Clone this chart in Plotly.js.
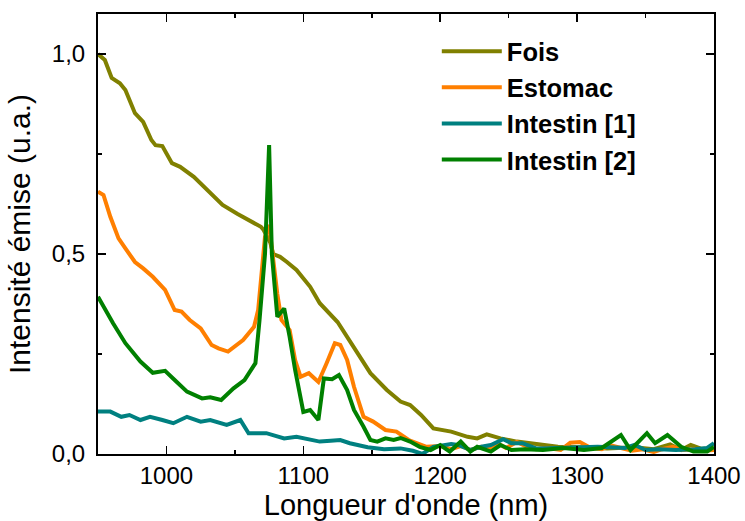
<!DOCTYPE html>
<html>
<head>
<meta charset="utf-8">
<script src="https://cdn.plot.ly/plotly-3.0.1.min.js"></script>
<style>html,body{margin:0;padding:0;background:#fff;}#chart{width:745px;height:521px;}</style>
</head>
<body>
<div id="chart"></div>
<script>
// Fois
const foisX = [950, 955, 960, 966, 970, 977, 983, 989, 992, 997, 1004, 1010, 1020, 1030, 1041, 1052, 1060, 1064, 1069, 1071, 1076, 1078, 1083, 1088, 1095, 1105, 1112, 1125, 1132, 1139, 1149, 1161, 1171, 1178, 1186, 1195, 1208, 1220, 1227, 1234, 1244, 1256, 1271, 1286, 1303, 1322, 1342, 1356, 1368, 1376, 1383, 1390, 1400];
const foisY = [1.0, 0.985, 0.94, 0.927, 0.91, 0.852, 0.83, 0.785, 0.772, 0.77, 0.727, 0.718, 0.693, 0.66, 0.6225, 0.60, 0.585, 0.58, 0.568, 0.56, 0.527, 0.50, 0.493, 0.48, 0.46, 0.418, 0.377, 0.33, 0.293, 0.252, 0.202, 0.16, 0.131, 0.1225, 0.0975, 0.064, 0.056, 0.043, 0.039, 0.049, 0.039, 0.031, 0.025, 0.018, 0.017, 0.014, 0.017, 0.012, 0.024, 0.01, 0.0225, 0.014, 0.012];
// Estomac
const estX = [950, 954, 959, 965, 970, 977, 983, 990, 999, 1006, 1011, 1017, 1025, 1033, 1038, 1045, 1056, 1064, 1067, 1070, 1072, 1075, 1081, 1084, 1090, 1094, 1098, 1104, 1111, 1117, 1123, 1127, 1132, 1137, 1144, 1151, 1160, 1168, 1177, 1190, 1200, 1208, 1215, 1222, 1230, 1238, 1242, 1248, 1256, 1262, 1270, 1278, 1288, 1295, 1302, 1310, 1318, 1324, 1332, 1340, 1348, 1356, 1362, 1370, 1378, 1386, 1392, 1400];
const estY = [0.656, 0.6475, 0.593, 0.539, 0.514, 0.48, 0.464, 0.443, 0.41, 0.36, 0.356, 0.335, 0.314, 0.2725, 0.264, 0.256, 0.285, 0.318, 0.36, 0.46, 0.543, 0.5725, 0.40, 0.335, 0.31, 0.235, 0.193, 0.202, 0.18, 0.227, 0.277, 0.2725, 0.235, 0.168, 0.093, 0.081, 0.06, 0.056, 0.035, 0.018, 0.02, 0.012, 0.02, 0.01, 0.018, 0.012, 0.027, 0.015, 0.03, 0.02, 0.012, 0.015, 0.01, 0.028, 0.03, 0.015, 0.012, 0.022, 0.015, 0.008, 0.012, 0.005, 0.012, 0.018, 0.01, 0.012, 0.008, 0.01];
// Intestin [1]
const int1X = [950, 959, 967, 973, 981, 988, 997, 1005, 1015, 1025, 1032, 1044, 1054, 1060, 1073, 1086, 1095, 1105, 1112, 1120, 1127, 1134, 1147, 1159, 1171, 1180, 1187, 1195, 1208, 1213, 1222, 1230, 1237, 1246, 1252, 1260, 1270, 1285, 1302, 1315, 1324, 1335, 1342, 1350, 1360, 1372, 1386, 1395, 1400];
const int1Y = [0.106, 0.106, 0.093, 0.0975, 0.085, 0.093, 0.085, 0.077, 0.093, 0.081, 0.085, 0.0725, 0.085, 0.052, 0.052, 0.039, 0.043, 0.035, 0.031, 0.033, 0.035, 0.027, 0.017, 0.012, 0.014, 0.008, 0.0, 0.018, 0.025, 0.0225, 0.01, 0.018, 0.0225, 0.037, 0.027, 0.027, 0.014, 0.015, 0.017, 0.018, 0.017, 0.015, 0.0225, 0.01, 0.012, 0.01, 0.012, 0.015, 0.027];
// Intestin [2]
const int2X = [950, 954, 961, 970, 981, 990, 999, 1006, 1015, 1026, 1032, 1040, 1049, 1057, 1061, 1065, 1068, 1072, 1075, 1077, 1081, 1086, 1090, 1094, 1100, 1105, 1111, 1115, 1121, 1126, 1132, 1137, 1144, 1149, 1154, 1160, 1166, 1171, 1178, 1185, 1193, 1200, 1207, 1215, 1222, 1227, 1237, 1244, 1252, 1262, 1275, 1290, 1305, 1318, 1332, 1339, 1351, 1357, 1366, 1376, 1385, 1395, 1400];
const int2Y = [0.393, 0.368, 0.327, 0.277, 0.231, 0.203, 0.208, 0.185, 0.156, 0.139, 0.142, 0.135, 0.164, 0.185, 0.205, 0.227, 0.335, 0.50, 0.7725, 0.50, 0.343, 0.364, 0.293, 0.21, 0.105, 0.11, 0.085, 0.189, 0.187, 0.1975, 0.16, 0.11, 0.068, 0.035, 0.031, 0.039, 0.035, 0.04, 0.031, 0.018, 0.01, 0.0225, 0.006, 0.031, 0.006, 0.018, 0.006, 0.0225, 0.01, 0.012, 0.01, 0.015, 0.01, 0.015, 0.0475, 0.01, 0.052, 0.027, 0.0475, 0.018, 0.006, 0.006, 0.018];

const seriesNames = ["Fois", "Estomac", "Intestin [1]", "Intestin [2]"];
const seriesColors = ["#808000", "#ff7f00", "#008080", "#008000"];
const xs = [foisX, estX, int1X, int2X];
const ys = [foisY, estY, int1Y, int2Y];

const font = "Arial, 'Liberation Sans', sans-serif";
const traces = seriesNames.map((n, i) => ({
  type: "scatter", mode: "lines", name: n, x: xs[i], y: ys[i],
  line: {color: seriesColors[i], width: 4}
}));

const axisCommon = {
  showline: true, linecolor: "#000", linewidth: 2, mirror: "allticks",
  ticks: "inside", ticklen: 8, tickwidth: 1.5, tickcolor: "#000",
  showgrid: false, zeroline: false,
  tickfont: {family: font, size: 24, color: "#000"}
};

const layout = {
  width: 745, height: 521,
  margin: {l: 98, r: 31, t: 14, b: 67},
  paper_bgcolor: "#fff", plot_bgcolor: "#fff",
  separators: ", ",
  showlegend: true,
  legend: {x: 0.55, y: 0.968, xanchor: "left", yanchor: "top",
           font: {family: font, size: 25.5, color: "#000", weight: "bold"},
           bgcolor: "rgba(0,0,0,0)", itemwidth: 60},
  xaxis: Object.assign({}, axisCommon, {
    range: [950, 1400], tickvals: [1000, 1100, 1200, 1300, 1400],
    minor: {dtick: 50, tick0: 950, ticks: "inside", ticklen: 4, tickwidth: 1.5, tickcolor: "#000"},
    ticklabelstandoff: -1,
    title: {text: "Longueur d'onde (nm)", font: {family: font, size: 29, color: "#000"}, standoff: 3}
  }),
  yaxis: Object.assign({}, axisCommon, {
    range: [0, 1.1], tickvals: [0, 0.5, 1.0], tickformat: ".1f",
    minor: {dtick: 0.25, tick0: 0, ticks: "inside", ticklen: 4, tickwidth: 1.5, tickcolor: "#000"},
    ticklabelstandoff: 6,
    title: {text: "Intensité émise (u.a.)", font: {family: font, size: 30, color: "#000"}, standoff: 12}
  })
};

Plotly.newPlot("chart", traces, layout, {displayModeBar: false, staticPlot: true});
</script>
</body>
</html>
